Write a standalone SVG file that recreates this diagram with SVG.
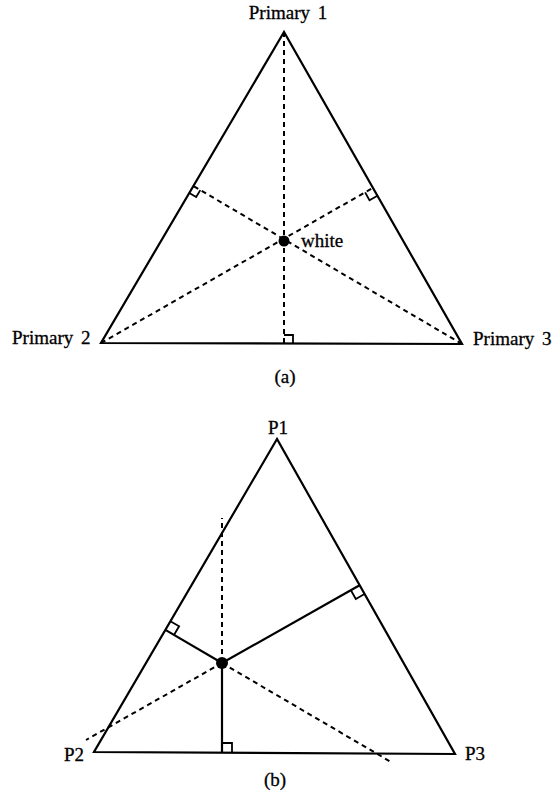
<svg xmlns="http://www.w3.org/2000/svg" width="552" height="796" viewBox="0 0 552 796">
<style>
.side{fill:none;stroke:#000;stroke-width:2.2;stroke-linejoin:miter}
.dash{fill:none;stroke:#000;stroke-width:2;stroke-dasharray:5 4}
.solid{fill:none;stroke:#000;stroke-width:2.2}
.mark{fill:none;stroke:#000;stroke-width:1.8}
.lbl{font-family:"Liberation Serif","Times New Roman",serif;font-size:19px;fill:#000;stroke:#000;stroke-width:0.3}
</style>
<rect width="552" height="796" fill="#fff"/>
<g id="figure-a">
  <g id="triangle-a"><polygon class="side" points="284,32 101,343 462,344"/></g>
  <g id="connectors-a">
    <line class="dash" x1="284" y1="32" x2="284" y2="344"/>
    <line class="dash" x1="101" y1="343" x2="372.9" y2="187.9"/>
    <line class="dash" x1="462" y1="344" x2="193.4" y2="186"/>
    <path class="mark" d="M284,335 H293 V344"/>
    <path class="mark" d="M189.3,192.9 L196.2,197 L200.3,190.1"/>
    <path class="mark" d="M377.4,195.7 L369.5,200.2 L365.1,192.4"/>
  </g>
  <g id="white"><circle cx="284" cy="241" r="5.5" fill="#000"/><text class="lbl" x="301" y="247">white</text></g>
  <text class="lbl" x="288" y="19" text-anchor="middle" word-spacing="3">Primary 1</text>
  <text class="lbl" x="12" y="344" word-spacing="3">Primary 2</text>
  <text class="lbl" x="473" y="345" word-spacing="3">Primary 3</text>
  <text class="lbl" x="285" y="383" text-anchor="middle">(a)</text>
</g>
<g id="figure-b">
  <g id="triangle-b"><polygon class="side" points="277,439 94,752 455,754"/></g>
  <g id="connectors-b">
    <line class="dash" x1="222" y1="663" x2="222" y2="518"/>
    <line class="dash" x1="222" y1="663" x2="86" y2="740"/>
    <line class="dash" x1="222" y1="663" x2="391" y2="762"/>
    <line class="solid" x1="222" y1="663" x2="222" y2="753"/>
    <line class="solid" x1="222" y1="663" x2="165.4" y2="629.9"/>
    <line class="solid" x1="222" y1="663" x2="359.6" y2="585.3"/>
    <path class="mark" d="M222,743 H232 V753"/>
    <path class="mark" d="M170.4,621.3 L179.1,626.3 L174,635"/>
    <path class="mark" d="M364.5,594 L355.8,599 L350.9,590.2"/>
  </g>
  <g id="point"><circle cx="222" cy="663" r="6" fill="#000"/></g>
  <text class="lbl" x="278" y="434" text-anchor="middle">P1</text>
  <text class="lbl" x="64" y="761">P2</text>
  <text class="lbl" x="465" y="760">P3</text>
  <text class="lbl" x="275" y="786" text-anchor="middle">(b)</text>
</g>
</svg>
